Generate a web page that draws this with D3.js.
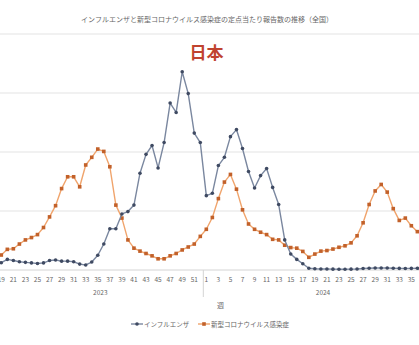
<!DOCTYPE html>
<html>
<head>
<meta charset="utf-8">
<script src="https://cdn.jsdelivr.net/npm/d3@7"></script>
<style>
  html, body { margin: 0; padding: 0; background: #fff; overflow: hidden; }
  svg { display: block; font-family: "Noto Sans CJK JP", "Noto Sans", sans-serif; }
</style>
</head>
<body>
<div id="host"><svg></svg></div>
<script>
const WIDTH = 419;
const HEIGHT = 345;

const TITLE = "インフルエンザと新型コロナウイルス感染症の定点当たり報告数の推移（全国）";
const SUBTITLE = "日本";
const AXIS_TITLE = "週";
const SERIES_NAMES = ["インフルエンザ", "新型コロナウイルス感染症"];

const YEARS = ["2023", "2024"];
const WEEKS_2023 = d3.range(19, 53);
const WEEKS_2024 = d3.range(1, 37);
const GRID_VALUES = [0, 10, 20, 30, 40];

const FLU = [
  1.24, 1.8, 1.6, 1.4, 1.3, 1.2, 1.1, 1.2, 1.6, 1.7, 1.5, 1.5, 1.4, 1.0, 0.85, 1.35, 2.5,
  4.4, 7.0, 7.0, 9.5, 9.9, 11.0, 16.4, 19.6, 21.1, 17.3, 21.6, 28.3, 26.7, 33.6, 29.9, 23.2, 21.6,
  12.6, 13.0, 17.7, 19.1, 22.6, 23.8, 20.6, 16.7, 13.9, 16.0, 17.2, 14.0, 11.1, 5.1, 2.7, 1.8,
  1.05, 0.3, 0.2, 0.18, 0.16, 0.14, 0.13, 0.12, 0.14, 0.18, 0.25, 0.3, 0.33, 0.35, 0.33, 0.3,
  0.27, 0.25, 0.27, 0.3
];

const COVID = [
  2.54, 3.5, 3.6, 4.4, 5.1, 5.5, 6.0, 7.2, 9.0, 10.9, 13.8, 15.8, 15.8, 14.1, 17.8, 19.1, 20.5,
  20.1, 17.5, 11.0, 8.8, 5.1, 3.7, 3.2, 2.8, 2.4, 1.9, 1.9, 2.4, 2.8, 3.4, 3.9, 4.4, 5.7,
  6.9, 8.9, 12.1, 14.9, 16.2, 13.7, 10.2, 7.8, 6.9, 6.4, 6.0, 5.2, 5.1, 4.2, 3.8, 3.7,
  3.15, 2.15, 2.7, 3.2, 3.3, 3.55, 3.85, 4.1, 4.6, 5.8, 8.0, 11.1, 13.4, 14.5, 13.2, 10.4,
  8.4, 8.8, 7.5, 6.5
];

const BLUE_LINE = "#7a879f";
const BLUE_DOT = "#3f4a62";
const ORANGE_LINE = "#f0a46c";
const ORANGE_DOT = "#c2612a";
const GRID = "#e3e3e3";
const TEXT = "#666";

const categories = [
  ...WEEKS_2023.map((w) => ({ year: YEARS[0], week: w })),
  ...WEEKS_2024.map((w) => ({ year: YEARS[1], week: w })),
];
const keys = categories.map((c) => c.year + "-" + c.week);

const svg = d3.select("#host svg").attr("width", WIDTH).attr("height", HEIGHT);

const x = d3.scalePoint().domain(keys).range([1.3, 1.3 + (keys.length - 1) * 6.03]);
const y = d3.scaleLinear().domain([0, 40]).range([270, 34]);

// title
svg.append("text")
  .attr("x", 207).attr("y", 22)
  .attr("text-anchor", "middle")
  .attr("font-size", 7)
  .attr("fill", TEXT)
  .text(TITLE);

// gridlines
svg.append("g")
  .selectAll("line")
  .data(GRID_VALUES.slice(1))
  .join("line")
  .attr("x1", 0).attr("x2", WIDTH)
  .attr("y1", (d) => y(d)).attr("y2", (d) => y(d))
  .attr("stroke", GRID).attr("stroke-width", 1);

svg.append("line")
  .attr("x1", 0).attr("x2", WIDTH)
  .attr("y1", y(0)).attr("y2", y(0))
  .attr("stroke", "#d4d4d4");

svg.append("text")
  .attr("x", 206.5).attr("y", 59)
  .attr("text-anchor", "middle")
  .attr("font-size", 17)
  .attr("font-weight", "bold")
  .attr("fill", "#c0432f")
  .text(SUBTITLE);

// x axis labels (every other week)
svg.append("g")
  .selectAll("text")
  .data(categories.filter((c) => c.week % 2 === 1))
  .join("text")
  .attr("x", (c) => x(c.year + "-" + c.week))
  .attr("y", 282)
  .attr("text-anchor", "middle")
  .attr("font-size", 6.5)
  .attr("fill", TEXT)
  .text((c) => c.week);

// year separator and year labels
const xLast2023 = x(YEARS[0] + "-52");
const xFirst2024 = x(YEARS[1] + "-1");
const sep = (xLast2023 + xFirst2024) / 2;
svg.append("line")
  .attr("x1", sep).attr("x2", sep)
  .attr("y1", y(0)).attr("y2", 297)
  .attr("stroke", "#d4d4d4");

svg.append("text")
  .attr("x", (x(keys[0]) + sep) / 2 - 2).attr("y", 295)
  .attr("text-anchor", "middle").attr("font-size", 6.5).attr("fill", TEXT)
  .text(YEARS[0]);
svg.append("text")
  .attr("x", 323).attr("y", 295)
  .attr("text-anchor", "middle").attr("font-size", 6.5).attr("fill", TEXT)
  .text(YEARS[1]);

svg.append("text")
  .attr("x", 220.5).attr("y", 308)
  .attr("text-anchor", "middle").attr("font-size", 7).attr("fill", TEXT)
  .text(AXIS_TITLE);

// series
function drawSeries(values, lineColor, dotColor, square) {
  const pts = values.map((v, i) => [x(keys[i]), y(v)]);
  svg.append("path")
    .attr("d", d3.line()(pts))
    .attr("fill", "none")
    .attr("stroke", lineColor)
    .attr("stroke-width", 1.4)
    .attr("stroke-linejoin", "round");
  const g = svg.append("g");
  if (square) {
    g.selectAll("rect").data(pts).join("rect")
      .attr("x", (p) => p[0] - 1.8).attr("y", (p) => p[1] - 1.8)
      .attr("width", 3.6).attr("height", 3.6)
      .attr("fill", dotColor);
  } else {
    g.selectAll("circle").data(pts).join("circle")
      .attr("cx", (p) => p[0]).attr("cy", (p) => p[1])
      .attr("r", 1.8)
      .attr("fill", dotColor);
  }
}

drawSeries(COVID, ORANGE_LINE, ORANGE_DOT, true);
drawSeries(FLU, BLUE_LINE, BLUE_DOT, false);

// legend
const leg = svg.append("g").attr("font-size", 6.5).attr("fill", TEXT);
leg.append("line").attr("x1", 131).attr("x2", 143).attr("y1", 324).attr("y2", 324)
  .attr("stroke", BLUE_LINE).attr("stroke-width", 1.4);
leg.append("circle").attr("cx", 137).attr("cy", 324).attr("r", 1.8).attr("fill", BLUE_DOT);
leg.append("text").attr("x", 144).attr("y", 326.5).text(SERIES_NAMES[0]);

leg.append("line").attr("x1", 198).attr("x2", 210).attr("y1", 324).attr("y2", 324)
  .attr("stroke", ORANGE_LINE).attr("stroke-width", 1.4);
leg.append("rect").attr("x", 202.2).attr("y", 322.2).attr("width", 3.6).attr("height", 3.6)
  .attr("fill", ORANGE_DOT);
leg.append("text").attr("x", 211).attr("y", 326.5).text(SERIES_NAMES[1]);
</script>
</body>
</html>
